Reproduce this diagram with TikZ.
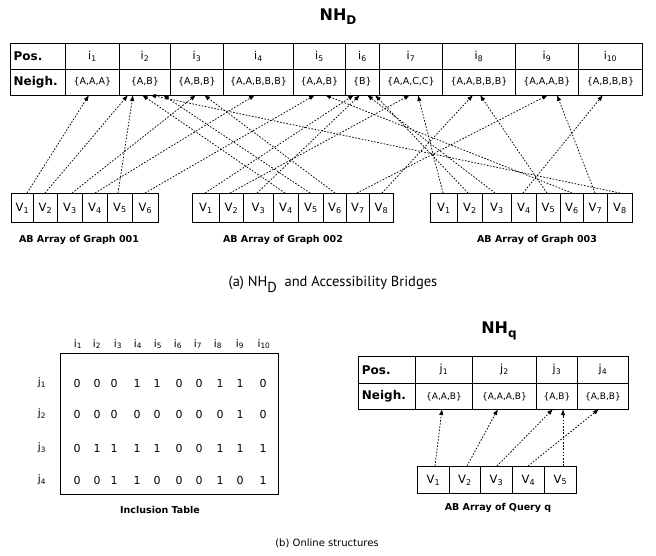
\documentclass[tikz,border=0pt]{standalone}
\usepackage{fontspec}
\setmainfont{DejaVu Sans}
\newfontfamily\capfont{PT Sans}
\usetikzlibrary{arrows.meta}
\begin{document}
\begin{tikzpicture}[x=1pt,y=-1pt,
  cell/.style={draw, line width=0.9pt, inner sep=0pt, anchor=north west},
  hdr/.style={font=\fontsize{12}{14}\selectfont\bfseries},
  nb/.style={font=\fontsize{9.5}{11}\selectfont},
  posl/.style={font=\fontsize{11}{13}\selectfont},
  vv/.style={font=\fontsize{11.5}{13}\selectfont},
  lab/.style={font=\fontsize{9.5}{11}\selectfont\bfseries},
  arr/.style={-{Latex[length=6pt,width=4.5pt]}, line width=0.75pt, dash pattern=on 1.6pt off 1.6pt},
  val/.style={font=\fontsize{11}{13}\selectfont}]
\useasboundingbox (0,0) rectangle (656,555);
\fill[white] (0,0) rectangle (656,555);

% ---------- NH_D title
\node[font=\fontsize{16}{18}\selectfont\bfseries] (tD) at (338,17) {NH\raisebox{-4pt}{\fontsize{12}{14}\selectfont D}};

% ---------- NH_D table
\node[cell, hdr, minimum width=55.5pt, minimum height=25.5pt, text width=48pt, align=left] (p0) at (9.5,43) {Pos.};
\node[cell, hdr, minimum width=55.5pt, minimum height=26pt, text width=48pt, align=left] (n0) at (9.5,68.5) {Neigh.};
\foreach \n/\a/\b/\u in {1/65/119/{\{A,A,A\}}, 2/119/170/{\{A,B\}}, 3/170/223/{\{A,B,B\}},
  4/223/293/{\{A,A,B,B,B\}}, 5/293/345/{\{A,A,B\}}, 6/345/379/{\{B\}}, 7/379/442/{\{A,A,C,C\}},
  8/442/515/{\{A,A,B,B,B\}}, 9/515/578/{\{A,A,A,B\}}, 10/578/642/{\{A,B,B,B\}}}{
  \node[cell, posl, minimum width={(\b-\a)*1pt}, minimum height=25.5pt] (p\n) at (\a,43) {i\textsubscript{\n}};
  \node[cell, nb, minimum width={(\b-\a)*1pt}, minimum height=26pt] (n\n) at (\a,68.5) {\u};
}

% ---------- AB arrays
\foreach \k/\a/\b in {1/11/33, 2/33/57, 3/57/82, 4/82/107, 5/107/132, 6/132/158}{
  \node[cell, vv, minimum width={(\b-\a)*1pt}, minimum height=29pt] (ga\k) at (\a,193) {V\textsubscript{\k}};
}
\foreach \k/\a/\b in {1/192/219, 2/219/243, 3/243/273, 4/273/298, 5/298/323, 6/323/346, 7/346/369, 8/369/393}{
  \node[cell, vv, minimum width={(\b-\a)*1pt}, minimum height=29pt] (gb\k) at (\a,193) {V\textsubscript{\k}};
}
\foreach \k/\a/\b in {1/430/457, 2/457/482, 3/482/511, 4/511/536, 5/536/560, 6/560/583, 7/583/607, 8/607/632}{
  \node[cell, vv, minimum width={(\b-\a)*1pt}, minimum height=29pt] (gc\k) at (\a,193) {V\textsubscript{\k}};
}
\node[lab] (la) at (79,240) {AB Array of Graph 001};
\node[lab] (lb) at (283,240) {AB Array of Graph 002};
\node[lab] (lc) at (537,240) {AB Array of Graph 003};

% ---------- arrow end points
\foreach \nm/\x in {h1/89, h2a/128, h2b/133, h2c/142, h2d/150, h2e/163, h3a/196, h3b/204, h4/255,
  h5a/315, h5b/325, h6a/354, h6b/360, h6c/367, h6d/375, h7a/410, h7b/418, h8a/473, h8b/480,
  h9a/548, h9b/557, h10/603}{
  \coordinate (\nm) at (\x,95);
}
\foreach \nm/\x in {a1/27, a2/45, a3/72, a4/95, a5/118, a6/145,
  b1/205, b2/230, b3/257, b4/285, b5/310, b6/335, b7/357, b8/382,
  c1/443, c2/468, c3/495, c4/523, c5/547, c6/572, c7/595, c8/620}{
  \coordinate (\nm) at (\x,193);
}
\foreach \s/\t in {a1/h1, a2/h2a, a3/h3a, a4/h4, a5/h2b, a6/h5a,
  b1/h6a, b2/h7a, b3/h6b, b4/h2c, b5/h2e, b6/h3b, b7/h9a, b8/h8a,
  c1/h7b, c2/h6d, c3/h6c, c4/h10, c5/h8b, c6/h5b, c7/h9b, c8/h2d}{
  \draw[arr] (\s) -- (\t);
}

% ---------- caption (a)
\node[font=\capfont\fontsize{14.5}{16}\selectfont] (capa) at (333,284) {(a) NH\raisebox{-6pt}{D}\ \ and Accessibility Bridges};

% ---------- Inclusion table
\node[draw, line width=0.9pt, minimum width=218pt, minimum height=141pt, anchor=north west, inner sep=0pt] (inc) at (60,353) {};
\foreach \k/\x in {1/78, 2/97, 3/118, 4/138, 5/158, 6/178, 7/198, 8/218, 9/240, 10/264}{
  \node[font=\fontsize{10.5}{12}\selectfont] (ci\k) at (\x,344) {i\textsubscript{\k}};
}
\foreach \k/\y in {1/383, 2/414, 3/448, 4/480}{
  \node[font=\fontsize{10.5}{12}\selectfont] (rj\k) at (42,\y) {j\textsubscript{\k}};
}
\foreach \r/\y/\vals in {1/383/{0,0,0,1,1,0,0,1,1,0}, 2/414/{0,0,0,0,0,0,0,0,1,0},
  3/448/{0,1,1,1,1,0,0,1,1,1}, 4/480/{0,0,1,1,0,0,0,1,0,1}}{
  \foreach \v [count=\c] in \vals {
    \pgfmathsetmacro{\xx}{{77,97,114,137,157,179,199,220,240,263}[\c-1]}
    \node[val] (m\r-\c) at (\xx,\y) {\v};
  }
}
\node[lab] (linc) at (160,510) {Inclusion Table};

% ---------- NH_q
\node[font=\fontsize{16}{18}\selectfont\bfseries] (tq) at (499,331) {NH\raisebox{-4pt}{\fontsize{12}{14}\selectfont q}};
\node[cell, hdr, minimum width=57pt, minimum height=27pt, text width=50pt, align=left] (qp0) at (358,356) {Pos.};
\node[cell, hdr, minimum width=57pt, minimum height=26pt, text width=50pt, align=left] (qn0) at (358,383) {Neigh.};
\foreach \n/\a/\b/\u in {1/415/472/{\{A,A,B\}}, 2/472/536/{\{A,A,A,B\}}, 3/536/577/{\{A,B\}}, 4/577/628/{\{A,B,B\}}}{
  \node[cell, posl, minimum width={(\b-\a)*1pt}, minimum height=27pt] (qp\n) at (\a,356) {j\textsubscript{\n}};
  \node[cell, font=\fontsize{9}{11}\selectfont, minimum width={(\b-\a)*1pt}, minimum height=26pt] (qn\n) at (\a,383) {\u};
}
\foreach \k/\a/\b in {1/417/449, 2/449/480, 3/480/512, 4/512/544, 5/544/576}{
  \node[cell, vv, minimum width={(\b-\a)*1pt}, minimum height=27pt] (qv\k) at (\a,466) {V\textsubscript{\k}};
}
\node[lab] (lq) at (498,508) {AB Array of Query q};
\foreach \nm/\x in {qt1/435, qt2/467, qt3/497, qt4/528, qt5/563}{\coordinate (\nm) at (\x,466);}
\foreach \nm/\x in {qh1/442, qh2/498, qh3/553, qh4/599, qh5/563}{\coordinate (\nm) at (\x,409);}
\foreach \k in {1,...,5}{\draw[arr] (qt\k) -- (qh\k);}

% ---------- caption (b)
\node[font=\fontsize{10}{12}\selectfont] (capb) at (327,543) {(b) Online structures};
\end{tikzpicture}
\end{document}
